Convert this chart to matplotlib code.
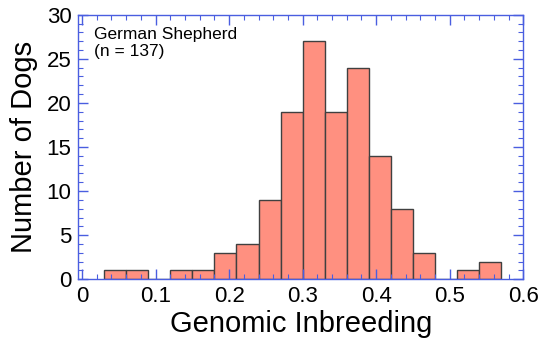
import matplotlib.pyplot as plt
from matplotlib.ticker import MultipleLocator

plt.rcParams["font.family"] = ["Liberation Sans", "DejaVu Sans"]

# histogram of genomic inbreeding, bin width 0.03
bin_edges = [0.03, 0.06, 0.09, 0.12, 0.15, 0.18, 0.21, 0.24, 0.27, 0.30,
             0.33, 0.36, 0.39, 0.42, 0.45, 0.48, 0.51, 0.54, 0.57]
counts = [1, 1, 0, 1, 1, 3, 4, 9, 19, 27, 19, 24, 14, 8, 3, 0, 1, 2]

BLUE = "#4a5ee0"

fig = plt.figure(figsize=(5.42, 3.5), dpi=100)
ax = fig.add_axes([0.1445, 0.202, 0.821, 0.756])

lefts = bin_edges[:-1]
widths = [b - a for a, b in zip(bin_edges[:-1], bin_edges[1:])]
ax.bar(lefts, counts, width=widths, align="edge",
       color="#ff9080", edgecolor="#404040", linewidth=1.0)

ax.set_xlim(-0.005, 0.6)
ax.set_ylim(0, 30)
ax.xaxis.set_major_locator(MultipleLocator(0.1))
ax.xaxis.set_minor_locator(MultipleLocator(0.02))
ax.yaxis.set_major_locator(MultipleLocator(5))
ax.yaxis.set_minor_locator(MultipleLocator(1))
ax.set_xticks([0, 0.1, 0.2, 0.3, 0.4, 0.5, 0.6])
ax.set_xticklabels(["0", "0.1", "0.2", "0.3", "0.4", "0.5", "0.6"])

ax.tick_params(which="both", direction="in", top=True, right=True,
               color=BLUE, labelsize=16, labelcolor="black")
ax.tick_params(which="major", length=7, width=1.0, pad=5)
ax.tick_params(which="minor", length=3.5, width=0.8)
for spine in ax.spines.values():
    spine.set_color(BLUE)
    spine.set_linewidth(1.0)

ax.set_xlabel("Genomic Inbreeding", fontsize=21, labelpad=2)
ax.set_ylabel("Number of Dogs", fontsize=21, labelpad=6)

ax.text(0.035, 0.955, "German Shepherd\n(n = 137)", transform=ax.transAxes,
        ha="left", va="top", fontsize=12.5, linespacing=1.2)

fig.savefig("out.png", dpi=100)
